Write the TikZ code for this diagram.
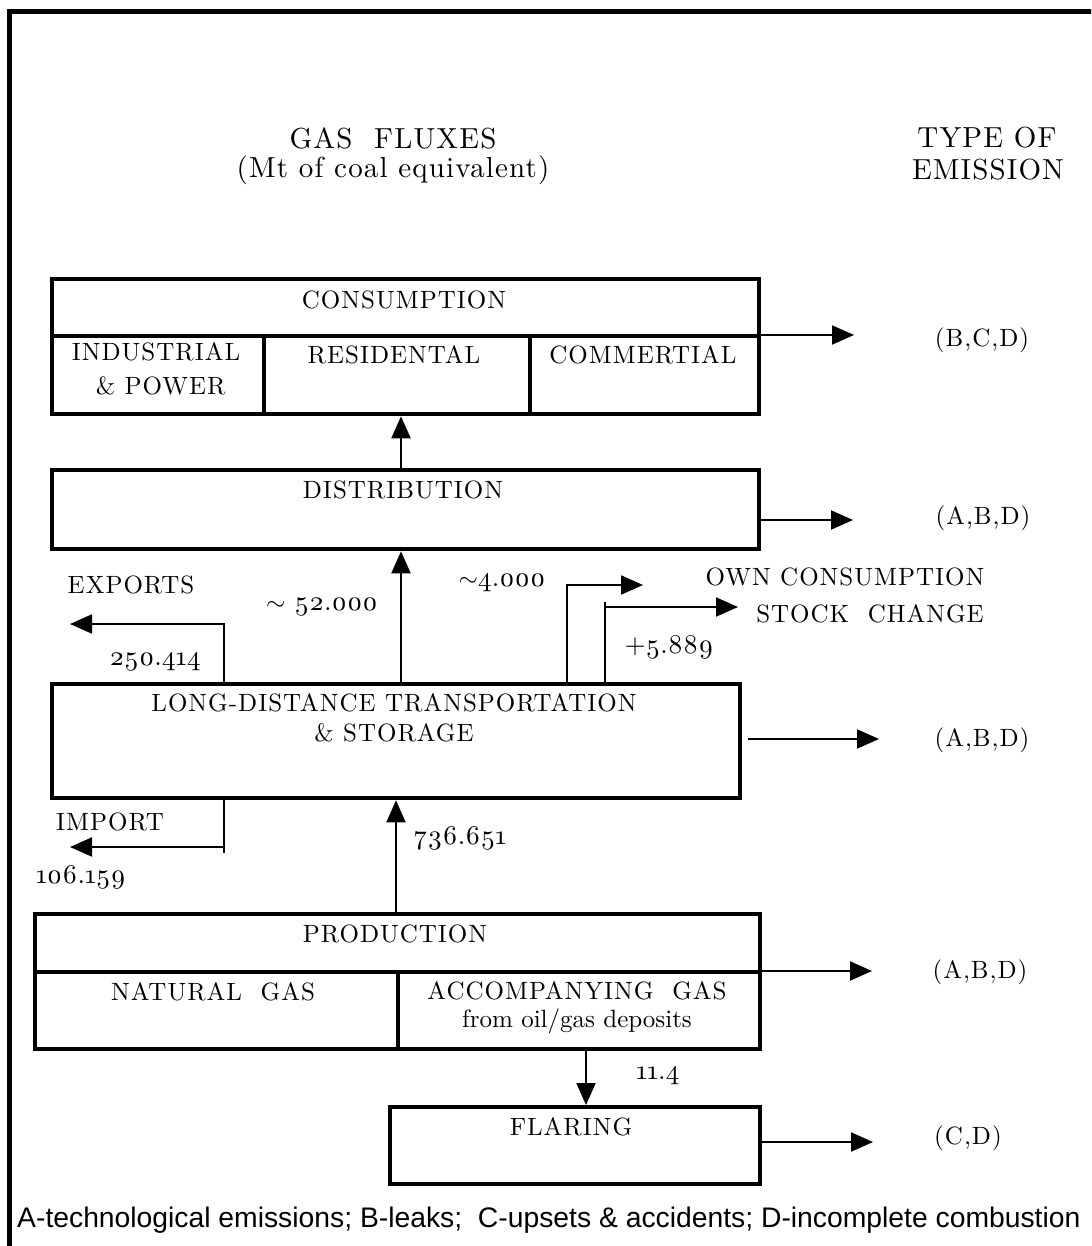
\documentclass[tikz,border=0pt]{standalone}
\usepackage{fontspec}
\usetikzlibrary{arrows.meta,calc}
\newfontfamily\lbfont{lmroman10-regular.otf}[Numbers=OldStyle,LetterSpace=4]
\newfontfamily\plfont{lmroman10-regular.otf}[Numbers=OldStyle]
\newfontfamily\footfont{Liberation Sans}
\newcommand\LB{\fontsize{25}{34}\lbfont}
\newcommand\PL{\fontsize{25}{34}\plfont}
\newcommand\NUM{\fontsize{27}{34}\plfont}
\newcommand\HD{\fontsize{29}{34}\lbfont}
\tikzset{
  box/.style={draw, line width=4.3pt, rectangle, inner sep=0pt, anchor=north west},
  lbl/.style={font=\LB, inner sep=0pt, align=center},
  num/.style={font=\NUM, inner sep=0pt},
  hd/.style={font=\HD, inner sep=0pt, align=center},
  arr/.style={line width=2pt, -{Triangle[length=22pt,width=19pt]}},
  ln/.style={line width=2pt},
}
\begin{document}
\begin{tikzpicture}[x=1pt,y=-1pt]
\clip (0,0) rectangle (1091,1246);
\fill[white] (0,0) rectangle (1091,1246);
% frame
\draw[line width=5pt] (9,1260) -- (9,12) -- (1100,12);

% headings
\node[hd] (h1a) at (393,138) {GAS\ \ FLUXES};
\node[hd] (h1b) at (393,170) {(Mt of coal equivalent)};
\node[hd] (h2a) at (987,138) {TYPE OF};
\node[hd] (h2b) at (988,170) {EMISSION};

% consumption
\node[box, minimum width=707pt, minimum height=57pt] (consT) at (50,277) {};
\node[box, minimum width=212pt, minimum height=78pt] (ind) at (50,334) {};
\node[box, minimum width=266pt, minimum height=78pt] (res) at (262,334) {};
\node[box, minimum width=229pt, minimum height=78pt] (com) at (528,334) {};
\node[lbl] (consL) at (404,300) {CONSUMPTION};
\node[lbl] (indL) at (156,369) {INDUSTRIAL\\\ \& POWER};
\node[lbl] (resL) at (394,355) {RESIDENTAL};
\node[lbl] (comL) at (643,355) {COMMERTIAL};

% distribution
\node[box, minimum width=707pt, minimum height=79pt] (dist) at (50,468) {};
\node[lbl] (distL) at (403,490) {DISTRIBUTION};

% long-distance
\node[box, minimum width=688pt, minimum height=114pt] (ldt) at (50,682) {};
\node[lbl, font=\fontsize{25}{30}\lbfont] (ldtL) at (394,718) {LONG-DISTANCE\ TRANSPORTATION\\\&\ STORAGE};

% production
\node[box, minimum width=725pt, minimum height=58pt] (prodT) at (33,912) {};
\node[box, minimum width=363pt, minimum height=77pt] (ng) at (33,970) {};
\node[box, minimum width=362pt, minimum height=77pt] (ag) at (396,970) {};
\node[lbl] (prodL) at (395,934) {PRODUCTION};
\node[lbl] (ngL) at (213,992) {NATURAL\ \ GAS};
\node[lbl] (agL) at (577,991) {ACCOMPANYING\ \ GAS};
\node[lbl, font=\PL] (agL2) at (577,1021) {from oil/gas deposits};

% flaring
\node[box, minimum width=370pt, minimum height=77pt] (flar) at (388,1105) {};
\node[lbl] (flarL) at (571,1127) {FLARING};

% emission labels and arrow tips
\node[lbl] (e1) at (982,340) {(B,C,D)};
\node[lbl] (e2) at (983,518) {(A,B,D)};
\node[lbl] (e3) at (982,740) {(A,B,D)};
\node[lbl] (e4) at (980,972) {(A,B,D)};
\node[lbl] (e5) at (968,1138) {(C,D)};
\coordinate (t1) at (854,335);
\coordinate (t2) at (853,520);
\coordinate (t3) at (879,739);
\coordinate (t4) at (872,971);
\coordinate (t5) at (873,1142);
\draw[arr] (t1 -| consT.east) -- (t1);
\draw[arr] (t2 -| dist.east) -- (t2);
\draw[arr, shorten <=6pt] (t3 -| ldt.east) -- (t3);
\draw[arr] (t4 -| prodT.east) -- (t4);
\draw[arr] (t5 -| flar.east) -- (t5);

% vertical flows
\coordinate (v1) at (401,0);
\coordinate (v2) at (396,0);
\coordinate (v3) at (586,0);
\draw[arr] (dist.north -| v1) -- (res.south -| v1);
\draw[arr] (ldt.north -| v1) -- (dist.south -| v1);
\draw[arr] (prodT.north -| v2) -- (ldt.south -| v2);
\draw[arr] (ag.south -| v3) -- (flar.north -| v3);

% exports
\coordinate (expC) at (224,624);
\coordinate (expT) at (70,624);
\draw[arr] (ldt.north -| expC) |- (expT);
\node[lbl] (expL) at (131,585) {EXPORTS};
\node[num] (expN) at (155,662) {250.414};

% import
\coordinate (impC) at (224,847);
\coordinate (impE) at (224,853);
\coordinate (impT) at (70,847);
\draw[ln] (ldt.south -| impC) -- (impE);
\draw[arr] (impC) -- (impT);
\node[lbl] (impL) at (110,822) {IMPORT};
\node[num] (impN) at (81,877) {106.159};

% own consumption / stock change
\coordinate (ownC) at (567,585);
\coordinate (ownT) at (643,585);
\draw[arr] (ldt.north -| ownC) |- (ownT);
\coordinate (stC) at (605,607);
\coordinate (stE) at (605,602);
\coordinate (stT) at (738,607);
\draw[ln] (ldt.north -| stC) -- (stE);
\draw[arr] (stC) -- (stT);
\node[lbl] (ownL) at (845,577) {OWN CONSUMPTION};
\node[lbl] (stL) at (870,614) {STOCK\ \ CHANGE};

% numbers
\node[num] (n52) at (322,607) {$\sim$ 52.000};
\node[num] (n4) at (502,583) {$\sim$4.000};
\node[num] (n5) at (669,647) {+5.889};
\node[num] (n736) at (460,838) {736.651};
\node[num] (n11) at (658,1076) {11.4};

% footer
\node[anchor=west, inner sep=0pt, font=\fontsize{28.3}{32}\footfont] (foot) at (17,1220) {A-technological emissions; B-leaks;\ \ C-upsets \& accidents; D-incomplete combustion};
\end{tikzpicture}
\end{document}
